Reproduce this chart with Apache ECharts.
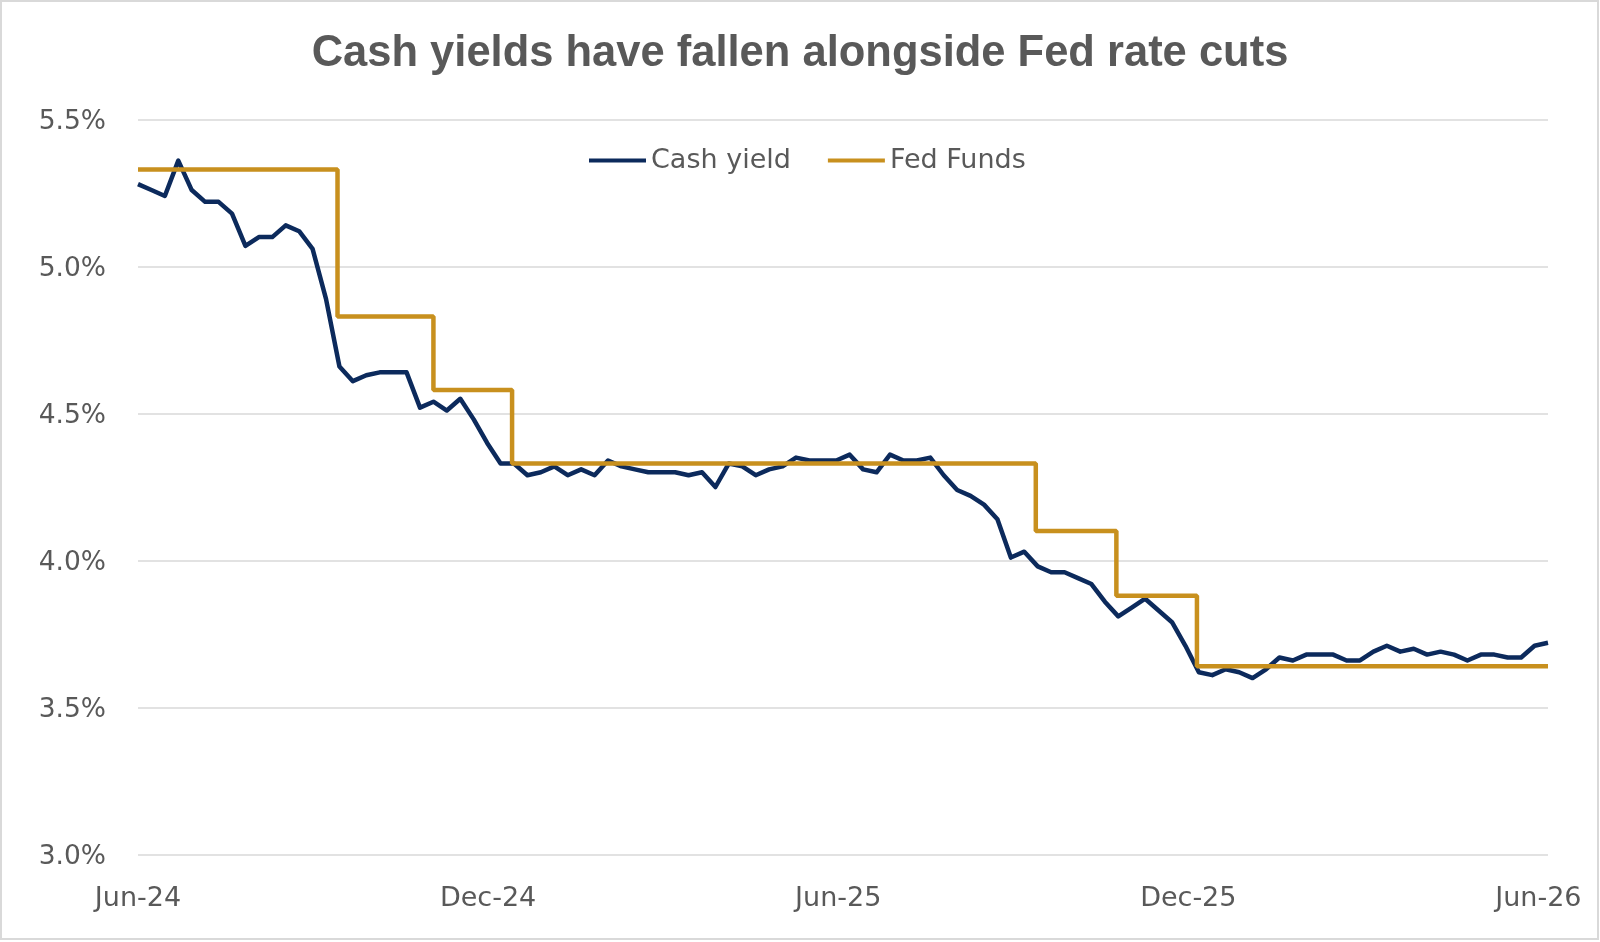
<!DOCTYPE html>
<html>
<head>
<meta charset="utf-8">
<script src="https://cdn.jsdelivr.net/npm/echarts@6/dist/echarts.min.js"></script>
<style>
html,body{margin:0;padding:0;background:#fff;}
#chart{width:1600px;height:942px;}
</style>
</head>
<body>
<div id="chart"></div>
<script>
// ---- Data ----
const titleText = 'Cash yields have fallen alongside Fed rate cuts';
const seriesNames = ['Cash yield', 'Fed Funds'];

// Weekly observations starting on this date (106 weeks)
const cashStartDate = '2024-06-07';
const cashYield = [
  5.28, 5.26, 5.24, 5.36, 5.26, 5.22, 5.22, 5.18, 5.07, 5.10,
  5.10, 5.14, 5.12, 5.06, 4.89, 4.66, 4.61, 4.63, 4.64, 4.64,
  4.64, 4.52, 4.54, 4.51, 4.55, 4.48, 4.40, 4.33, 4.33, 4.29,
  4.30, 4.32, 4.29, 4.31, 4.29, 4.34, 4.32, 4.31, 4.30, 4.30,
  4.30, 4.29, 4.30, 4.25, 4.33, 4.32, 4.29, 4.31, 4.32, 4.35,
  4.34, 4.34, 4.34, 4.36, 4.31, 4.30, 4.36, 4.34, 4.34, 4.35,
  4.29, 4.24, 4.22, 4.19, 4.14, 4.01, 4.03, 3.98, 3.96, 3.96,
  3.94, 3.92, 3.86, 3.81, 3.84, 3.87, 3.83, 3.79, 3.71, 3.62,
  3.61, 3.63, 3.62, 3.60, 3.63, 3.67, 3.66, 3.68, 3.68, 3.68,
  3.66, 3.66, 3.69, 3.71, 3.69, 3.70, 3.68, 3.69, 3.68, 3.66,
  3.68, 3.68, 3.67, 3.67, 3.71, 3.72
];

// Fed Funds effective rate: dates where the level changes
const fedDates = ['2024-06-07', '2024-09-19', '2024-11-08', '2024-12-19', '2025-09-18', '2025-10-30', '2025-12-11', '2026-06-12'];
const fedRates = [5.33, 4.83, 4.58, 4.33, 4.10, 3.88, 3.64, 3.64];

// Axis
const xMinDate = '2024-06-07';
const xMaxDate = '2026-06-12';
const xTickDates = ['2024-06-07', '2024-12-07', '2025-06-07', '2025-12-07', '2026-06-07'];
const xTickLabels = ['Jun-24', 'Dec-24', 'Jun-25', 'Dec-25', 'Jun-26'];
const yMin = 3.0, yMax = 5.5, yStep = 0.5;

// ---- Helpers: express dates as days since the axis start ----
const DAY = 86400000;
function parseDate(s) {
  const p = s.split('-').map(Number);
  return Date.UTC(p[0], p[1] - 1, p[2]);
}
const t0 = parseDate(xMinDate);
function dayOf(s) { return Math.round((parseDate(s) - t0) / DAY); }
const startDay = dayOf(cashStartDate);
const cashData = cashYield.map((v, i) => [startDay + 7 * i, v]);
const fedData = fedRates.map((v, i) => [dayOf(fedDates[i]), v]);
const tickDays = xTickDates.map(dayOf);
const xMax = dayOf(xMaxDate);
const xInterval = (tickDays[tickDays.length - 1] - tickDays[0]) / (tickDays.length - 1);

const NAVY = '#0c2a5c';
const GOLD = '#c8901e';
const TEXT = '#595959';
const GRID = '#d9d9d9';
const FONT = 'DejaVu Sans';

const chart = echarts.init(document.getElementById('chart'), null, { renderer: 'canvas' });
chart.setOption({
  animation: false,
  backgroundColor: '#ffffff',
  title: {
    text: titleText,
    left: 'center',
    top: 27,
    textStyle: { fontFamily: 'Liberation Sans', fontSize: 43.5, fontWeight: 'bold', color: TEXT }
  },
  legend: {
    data: seriesNames,
    left: 584,
    top: 142,
    icon: 'rect',
    itemWidth: 57,
    itemHeight: 4,
    itemGap: 37,
    textStyle: { fontFamily: FONT, fontSize: 27, color: TEXT }
  },
  grid: { left: 138, right: 52, top: 119.5, bottom: 87.5, containLabel: false },
  xAxis: {
    type: 'value',
    min: 0,
    max: xMax,
    interval: xInterval,
    axisLine: { show: false },
    axisTick: { show: false },
    splitLine: { show: false },
    axisLabel: {
      showMinLabel: true,
      showMaxLabel: true,
      hideOverlap: false,
      margin: 31,
      fontFamily: FONT,
      fontSize: 27,
      color: TEXT,
      formatter: function (val) {
        for (let i = 0; i < tickDays.length; i++) {
          if (Math.abs(tickDays[i] - val) < 2) return xTickLabels[i];
        }
        return '';
      }
    }
  },
  yAxis: {
    type: 'value',
    min: yMin,
    max: yMax,
    interval: yStep,
    axisLine: { show: false },
    axisTick: { show: false },
    splitLine: { lineStyle: { color: GRID, width: 1.5 } },
    axisLabel: {
      margin: 32,
      fontFamily: FONT,
      fontSize: 26.5,
      color: TEXT,
      formatter: v => '{v|' + v.toFixed(1) + '%}',
      rich: {
        v: { fontFamily: FONT, fontSize: 26.5, color: TEXT, padding: [6, 0, 0, 0] }
      }
    }
  },
  series: [
    {
      name: seriesNames[0],
      type: 'line',
      data: cashData,
      symbol: 'none',
      color: NAVY,
      lineStyle: { color: NAVY, width: 4.5, join: 'round' }
    },
    {
      name: seriesNames[1],
      type: 'line',
      data: fedData,
      step: 'end',
      symbol: 'none',
      color: GOLD,
      lineStyle: { color: GOLD, width: 4.5 }
    }
  ],
  graphic: [{
    type: 'rect',
    shape: { x: 1, y: 1, width: 1597, height: 938 },
    style: { fill: null, stroke: GRID, lineWidth: 2 },
    silent: true
  }]
});
</script>
</body>
</html>
